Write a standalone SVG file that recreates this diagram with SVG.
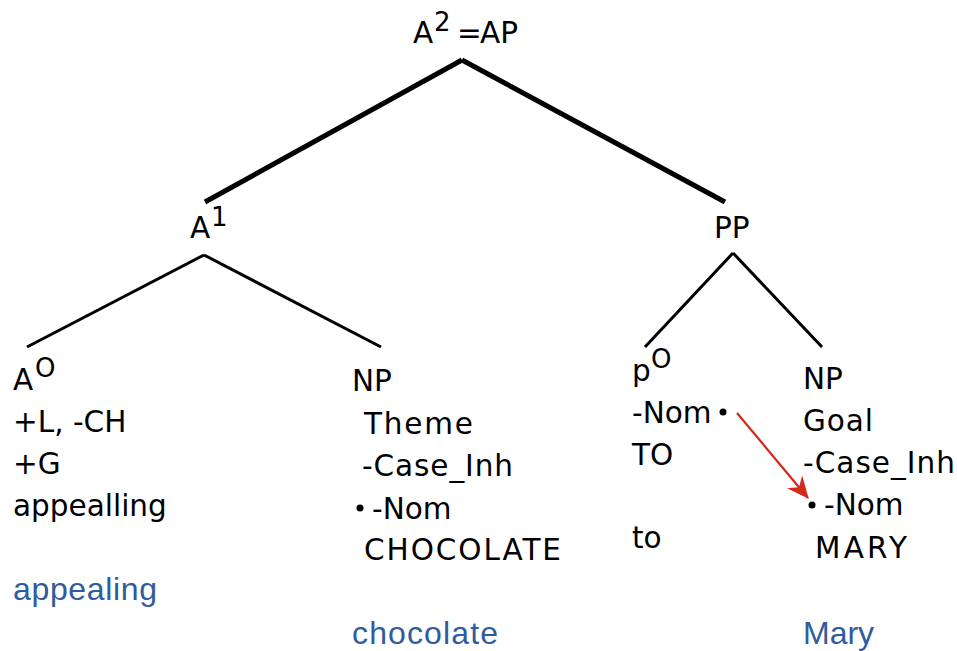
<svg xmlns="http://www.w3.org/2000/svg" width="957" height="651" viewBox="0 0 957 651">
  <style>
    .lbl { font-family: "DejaVu Sans", "Noto Sans", sans-serif; font-size: 29.5px; fill: #000; }
    .sup { font-size: 26px; }
    .gloss { font-family: "Liberation Sans", Arial, sans-serif; font-size: 32px; fill: #2f5c9e; }
    .branch { stroke: #000; stroke-width: 3; fill: none; }
    .trunk { stroke: #000; stroke-width: 5; fill: none; }
    .dot { fill: #000; }
    .link { stroke: #d42a1e; stroke-width: 2.2; fill: none; }
  </style>
  <defs>
    <marker id="barb" viewBox="0 0 22 20" refX="21" refY="10" markerWidth="22" markerHeight="20" markerUnits="userSpaceOnUse" orient="auto">
      <path d="M0,0 L22,10 L0,20 L7,10 Z" fill="#d42a1e"/>
    </marker>
  </defs>

  <g id="connectors">
    <line class="trunk" x1="462" y1="60" x2="205" y2="202"/>
    <line class="trunk" x1="462" y1="60" x2="725" y2="202"/>
    <line class="branch" x1="204" y1="255" x2="27" y2="347"/>
    <line class="branch" x1="204" y1="255" x2="381" y2="347"/>
    <line class="branch" x1="733" y1="253" x2="645" y2="347"/>
    <line class="branch" x1="733" y1="253" x2="822" y2="347"/>
    <line class="link" x1="737" y1="413" x2="808" y2="498" marker-end="url(#barb)"/>
  </g>

  <g id="node-AP">
    <text class="lbl" x="413" y="43">A<tspan class="sup" x="434" dy="-12">2</tspan></text>
    <text class="lbl" x="457" y="43" font-size="19">=</text>
    <text class="lbl" x="480" y="43">AP</text>
  </g>

  <g id="node-A1">
    <text class="lbl" x="190" y="238">A<tspan class="sup" x="211" dy="-12">1</tspan></text>
  </g>

  <g id="node-PP">
    <text class="lbl" x="714" y="238">PP</text>
  </g>

  <g id="node-A0">
    <text class="lbl" x="13" y="390">A<tspan class="sup" x="35" dy="-13">O</tspan></text>
    <text class="lbl" x="13" y="432">+L, -CH</text>
    <text class="lbl" x="13" y="474">+G</text>
    <text class="lbl" x="13" y="516">appealling</text>
    <text class="gloss" x="13" y="600" textLength="144" lengthAdjust="spacing">appealing</text>
  </g>

  <g id="node-NP-theme">
    <text class="lbl" x="352" y="391">NP</text>
    <text class="lbl" x="364" y="434" textLength="109" lengthAdjust="spacing">Theme</text>
    <text class="lbl" x="362" y="476" textLength="151" lengthAdjust="spacing">-Case_Inh</text>
    <circle class="dot" cx="360" cy="508" r="3.5"/>
    <text class="lbl" x="372" y="519">-Nom</text>
    <text class="lbl" x="364" y="560" textLength="197" lengthAdjust="spacing">CHOCOLATE</text>
    <text class="gloss" x="352" y="644" textLength="146" lengthAdjust="spacing">chocolate</text>
  </g>

  <g id="node-p0">
    <text class="lbl" x="632" y="381">p<tspan class="sup" x="651" dy="-13">O</tspan></text>
    <text class="lbl" x="632" y="423">-Nom</text>
    <circle class="dot" cx="723" cy="412" r="3.5"/>
    <text class="lbl" x="632" y="465">TO</text>
    <text class="lbl" x="632" y="548">to</text>
  </g>

  <g id="node-NP-goal">
    <text class="lbl" x="803" y="389">NP</text>
    <text class="lbl" x="803" y="431" textLength="70" lengthAdjust="spacing">Goal</text>
    <text class="lbl" x="803" y="473" textLength="152" lengthAdjust="spacing">-Case_Inh</text>
    <circle class="dot" cx="812" cy="505" r="3.5"/>
    <text class="lbl" x="824" y="515">-Nom</text>
    <text class="lbl" x="815" y="558" textLength="92" lengthAdjust="spacing">MARY</text>
    <text class="gloss" x="803" y="644">Mary</text>
  </g>
</svg>
